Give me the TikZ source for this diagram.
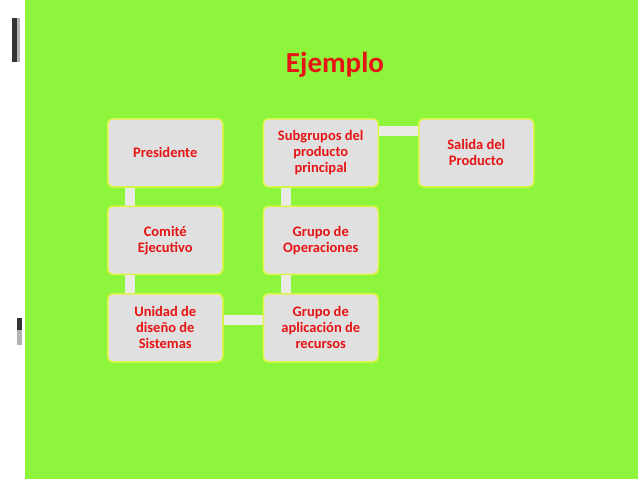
\documentclass[tikz,border=0pt]{standalone}
\usepackage{fontspec}
\setmainfont{Carlito}
\usetikzlibrary{positioning, calc, backgrounds}
\definecolor{bggreen}{RGB}{140,245,60}
\definecolor{boxgray}{RGB}{224,224,224}
\definecolor{boxline}{RGB}{225,245,70}
\definecolor{linkgray}{RGB}{232,236,228}
\definecolor{txtred}{RGB}{230,20,20}
\begin{document}
\begin{tikzpicture}[x=1pt, y=-1pt,
    mybox/.style={fill=boxgray, draw=boxline, line width=1.5pt, rounded corners=5pt, minimum width=115pt, minimum height=68pt, align=center, text=txtred, font=\bfseries\fontsize{14.5}{16}\selectfont, inner sep=2pt},
    mylink/.style={draw=linkgray, line width=10pt}]

    \useasboundingbox (0,0) rectangle (638,479);
    \begin{scope}[on background layer]
        \fill[white] (0,0) rectangle (638,479);
        \fill[bggreen] (25,0) rectangle (638,479);
        % marks on the left strip
        \fill[black!80] (12,18) rectangle (17,62);
        \fill[gray!60] (17,18) rectangle (20,62);
        \fill[black!80] (17,318) rectangle (22,330);
        \fill[gray!60] (17,330) rectangle (22,345);
    \end{scope}

    \node[text=txtred, font=\bfseries\fontsize{29}{31}\selectfont] (title) at (335,65) {Ejemplo};

    \node[mybox, anchor=north west] (pres) at (107,118) {Presidente};
    \node[mybox, below=18pt of pres] (comite) {Comité\\Ejecutivo};
    \node[mybox, below=18pt of comite] (unidad) {Unidad de\\diseño de\\Sistemas};
    \node[mybox, right=39pt of pres] (subgr) {Subgrupos del\\producto\\principal};
    \node[mybox, below=18pt of subgr] (operac) {Grupo de\\Operaciones};
    \node[mybox, below=18pt of operac] (aplic) {Grupo de\\aplicación de\\recursos};
    \node[mybox, right=39pt of subgr] (salida) {Salida del\\Producto};

    \begin{scope}[on background layer]
        \draw[mylink] ($(pres.south west)+(23,0)$) -- ($(comite.north west)+(23,0)$);
        \draw[mylink] ($(comite.south west)+(23,0)$) -- ($(unidad.north west)+(23,0)$);
        \draw[mylink] ($(unidad.north east)+(0,27)$) -- ($(aplic.north west)+(0,27)$);
        \draw[mylink] ($(aplic.north west)+(23,0)$) -- ($(operac.south west)+(23,0)$);
        \draw[mylink] ($(operac.north west)+(23,0)$) -- ($(subgr.south west)+(23,0)$);
        \draw[mylink] ($(subgr.north east)+(0,13)$) -- ($(salida.north west)+(0,13)$);
    \end{scope}
\end{tikzpicture}
\end{document}
